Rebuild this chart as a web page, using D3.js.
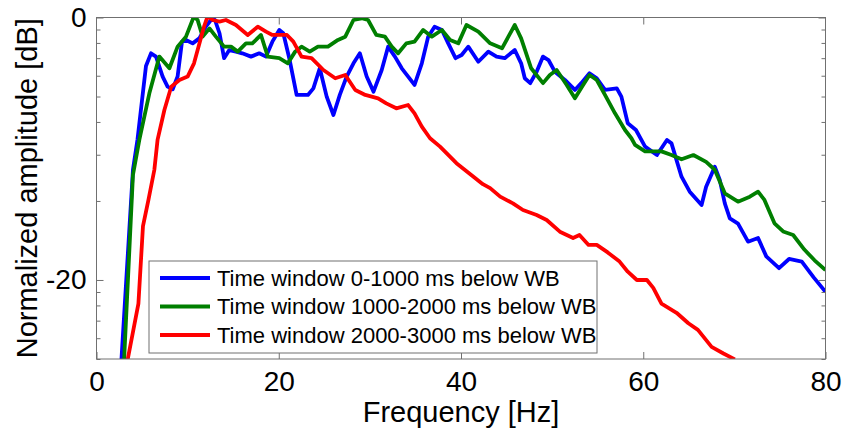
<!DOCTYPE html>
<html>
<head>
<meta charset="utf-8">
<script src="https://cdn.jsdelivr.net/npm/d3@7"></script>
<style>
  body { margin: 0; background: #fff; }
  text { font-family: "Liberation Sans", Arial, sans-serif; fill: #000; }
</style>
</head>
<body>
<svg id="chart"></svg>
<script>
// frequency [Hz] / level [dB]
const blueFreq = [2.7, 4.0, 4.5, 5.43, 5.98, 6.53, 7.26, 7.8, 8.36, 8.9, 9.38, 9.82, 10.55, 11.28, 12.0, 12.56, 13.0, 13.5, 14.0, 14.57, 15.3, 16.0, 16.95, 17.86, 18.6, 19.3, 20.06, 20.5, 21.2, 21.96, 23.2, 23.8, 24.5, 25.26, 26.0, 26.7, 27.45, 28.2, 28.9, 29.65, 30.4, 31.3, 32.0, 32.75, 33.5, 34.2, 34.9, 35.7, 36.4, 37.1, 37.9, 38.6, 39.4, 40.07, 40.8, 41.9, 43.0, 43.9, 44.8, 45.9, 46.6, 47.0, 47.6, 48.3, 49.0, 49.6, 50.3, 51.4, 52.5, 53.2, 54.1, 54.9, 55.8, 57.1, 57.6, 58.3, 59.2, 60.2, 61.5, 62.6, 63.1, 64.2, 65.1, 66.4, 66.9, 67.85, 68.4, 68.95, 69.5, 70.4, 71.5, 72.6, 73.5, 74.9, 76.0, 77.4, 78.7, 80];
const blueDb = [-26.5, -11.6, -9.3, -3.7, -2.73, -2.98, -4.5, -5.27, -5.47, -4.5, -1.84, -1.71, -1.97, -1.59, -0.7, -0.19, -0.19, -1.2, -3.1, -2.48, -2.6, -2.73, -2.98, -2.73, -2.98, -1.84, -0.95, -1.2, -3.24, -5.9, -5.9, -5.4, -3.87, -6.03, -7.43, -5.9, -4.5, -3.49, -2.73, -4.5, -5.65, -4.0, -2.22, -2.98, -3.87, -4.5, -5.14, -3.49, -1.46, -0.7, -0.95, -1.97, -3.1, -2.86, -2.22, -3.37, -2.6, -2.98, -3.1, -2.48, -3.49, -4.63, -5.0, -4.13, -2.98, -3.24, -4.13, -4.76, -5.52, -5.0, -4.25, -4.63, -5.52, -5.4, -6.03, -8.06, -8.57, -9.84, -10.48, -9.33, -9.59, -12.13, -13.27, -14.29, -12.89, -11.37, -12.38, -14.16, -15.3, -15.7, -17.08, -16.8, -18.2, -19.1, -18.4, -18.6, -19.8, -20.9];

const greenFreq = [3.0, 4.0, 4.7, 5.8, 6.9, 8.0, 8.9, 9.82, 10.7, 11.1, 11.65, 12.4, 13.1, 14.0, 14.76, 15.5, 16.4, 17.1, 18.05, 18.8, 20.06, 21.0, 21.8, 22.5, 23.4, 24.3, 25.4, 26.5, 27.3, 28.2, 29.1, 29.8, 30.7, 31.65, 32.4, 33.1, 34.0, 34.9, 35.85, 36.8, 37.9, 38.8, 39.7, 40.6, 41.9, 43.2, 44.5, 45.2, 45.9, 46.6, 47.7, 49.0, 49.75, 50.5, 51.6, 52.5, 53.4, 54.1, 54.9, 55.8, 56.9, 58.0, 58.7, 59.1, 60.2, 62.0, 63.1, 64.2, 65.5, 66.9, 67.85, 68.95, 70.4, 71.7, 72.6, 73.3, 74.4, 75.35, 76.45, 77.7, 78.8, 80];
const greenDb = [-26.5, -12.0, -9.33, -5.78, -2.98, -3.87, -2.22, -1.46, 0.1, -0.2, -1.46, -0.83, -1.46, -2.22, -2.22, -2.6, -1.97, -1.97, -1.33, -2.98, -3.1, -3.49, -2.6, -2.22, -2.6, -2.22, -2.22, -1.71, -1.46, -0.19, -0.06, -0.19, -1.33, -1.46, -2.22, -2.73, -1.97, -1.84, -0.95, -1.46, -0.95, -1.71, -1.97, -0.57, -1.08, -1.97, -2.35, -1.46, -0.57, -1.59, -3.87, -5.0, -4.38, -4.0, -5.14, -6.16, -5.14, -4.38, -4.76, -5.9, -7.3, -8.57, -9.2, -9.71, -10.2, -10.2, -10.48, -10.8, -10.48, -11.0, -11.6, -13.4, -14.03, -13.65, -13.27, -13.9, -15.68, -16.3, -16.57, -17.7, -18.5, -19.24];

const redFreq = [3.3, 4.6, 5.1, 5.7, 6.35, 6.7, 7.45, 8.2, 9.1, 10.0, 10.7, 11.3, 11.8, 12.2, 12.75, 13.5, 14.2, 15.3, 16.6, 17.7, 18.6, 19.3, 20.2, 20.9, 21.6, 22.5, 23.6, 24.9, 26.2, 27.3, 28.4, 29.5, 30.9, 31.8, 32.9, 34.2, 34.9, 35.7, 36.6, 37.7, 39.5, 41.3, 42.4, 43.2, 44.3, 45.7, 46.8, 48.3, 49.4, 50.85, 52.3, 53.0, 54.0, 54.9, 56.1, 57.4, 58.3, 59.3, 60.4, 61.1, 62.0, 63.65, 64.95, 66.0, 67.5, 68.8, 70.05];
const redDb = [-26.5, -21.8, -15.9, -13.9, -11.6, -9.33, -7.05, -5.27, -4.76, -4.5, -3.49, -1.97, -0.7, 0.1, -0.19, -0.32, -0.19, -0.57, -1.33, -0.7, -1.08, -1.33, -1.33, -1.33, -1.84, -2.98, -3.1, -4.0, -4.63, -4.38, -5.52, -5.9, -6.16, -6.54, -6.92, -6.67, -7.3, -8.32, -9.2, -9.84, -11.1, -12.1, -12.7, -13.0, -13.65, -14.16, -14.67, -15.05, -15.43, -16.32, -16.8, -16.57, -17.33, -17.33, -17.9, -18.6, -19.37, -20.0, -20.0, -20.6, -21.8, -22.5, -23.3, -23.8, -25.1, -25.6, -26.05];

const seriesNames = [
  "Time window 0-1000 ms below WB",
  "Time window 1000-2000 ms below WB",
  "Time window 2000-3000 ms below WB"
];
const seriesColors = ["#0000ff", "#007f00", "#ff0000"];

const xTicks = [0, 20, 40, 60, 80];
// y axis is amplitude on a log scale, labelled in dB
const yMinorAmp = [0.05, 0.06, 0.07, 0.08, 0.09, 0.2, 0.3, 0.4, 0.5, 0.6, 0.7, 0.8, 0.9];
const yMajorAmp = [0.1, 1];
const yMajorLabels = ["-20", "0"];

const W = 847, H = 437;
const plotLeft = 96.5, plotRight = 825.5, plotTop = 17.5, plotBottom = 359;

const svg = d3.select("#chart").attr("width", W).attr("height", H);

const x = d3.scaleLinear().domain([0, 80]).range([plotLeft, plotRight]);
const y = d3.scaleLinear().domain([20 * Math.log10(0.05), 0]).range([plotBottom, plotTop]);
const toDb = a => 20 * Math.log10(a);

svg.append("clipPath").attr("id", "plotClip")
  .append("rect")
  .attr("x", plotLeft).attr("y", plotTop)
  .attr("width", plotRight - plotLeft).attr("height", plotBottom - plotTop);

const series = [
  { freq: blueFreq, db: blueDb },
  { freq: greenFreq, db: greenDb },
  { freq: redFreq, db: redDb }
].map((s, i) => ({
  name: seriesNames[i],
  color: seriesColors[i],
  points: s.freq.map((f, j) => ({ f, db: s.db[j] }))
}));

const line = d3.line()
  .x(d => x(d.f))
  .y(d => y(d.db));

svg.append("g")
  .attr("clip-path", "url(#plotClip)")
  .selectAll("path")
  .data(series)
  .join("path")
  .attr("fill", "none")
  .attr("stroke", d => d.color)
  .attr("stroke-width", 3.8)
  .attr("stroke-linejoin", "round")
  .attr("d", d => line(d.points));

// axes: box with ticks on all four sides
const axisColor = "#707070";
const styleAxis = g => {
  g.select(".domain").remove();
  g.selectAll(".tick line").attr("stroke", axisColor);
};

svg.append("g")
  .attr("transform", `translate(0,${plotBottom})`)
  .call(d3.axisBottom(x).tickValues(xTicks).tickSize(-7).tickPadding(12))
  .call(styleAxis)
  .call(g => g.selectAll(".tick text")
    .attr("font-size", 28)
    .attr("font-family", "'Liberation Sans Narrow', 'Liberation Sans', Arial, sans-serif")
    .attr("dy", "0.71em"));

svg.append("g")
  .attr("transform", `translate(0,${plotTop})`)
  .call(d3.axisTop(x).tickValues(xTicks.slice(1, -1)).tickSize(-7).tickFormat(""))
  .call(styleAxis);

const yMajorDb = yMajorAmp.map(toDb);
const yMinorDb = yMinorAmp.map(toDb);

svg.append("g")
  .attr("transform", `translate(${plotLeft},0)`)
  .call(d3.axisLeft(y).tickValues(yMinorDb).tickSize(-4).tickFormat(""))
  .call(styleAxis);

svg.append("g")
  .attr("transform", `translate(${plotLeft},0)`)
  .call(d3.axisLeft(y).tickValues(yMajorDb).tickSize(-7).tickPadding(10)
    .tickFormat((d, i) => yMajorLabels[i]))
  .call(styleAxis)
  .call(g => g.selectAll(".tick text").attr("font-size", 28));

svg.append("g")
  .attr("transform", `translate(${plotRight},0)`)
  .call(d3.axisRight(y).tickValues(yMinorDb).tickSize(-4).tickFormat(""))
  .call(styleAxis);

svg.append("g")
  .attr("transform", `translate(${plotRight},0)`)
  .call(d3.axisRight(y).tickValues(yMajorDb).tickSize(-7).tickFormat(""))
  .call(styleAxis);

svg.append("rect")
  .attr("x", plotLeft).attr("y", plotTop)
  .attr("width", plotRight - plotLeft).attr("height", plotBottom - plotTop)
  .attr("fill", "none")
  .attr("stroke", axisColor)
  .attr("stroke-width", 1);

// axis titles
svg.append("text")
  .attr("x", (plotLeft + plotRight) / 2)
  .attr("y", 422)
  .attr("text-anchor", "middle")
  .attr("font-size", 29)
  .text("Frequency [Hz]");

svg.append("text")
  .attr("transform", `translate(37,${(plotTop + plotBottom) / 2}) rotate(-90)`)
  .attr("text-anchor", "middle")
  .attr("font-size", 29)
  .text("Normalized amplitude [dB]");

// legend
const legend = svg.append("g").attr("transform", "translate(149,261)");
legend.append("rect")
  .attr("width", 448).attr("height", 92)
  .attr("fill", "#fff")
  .attr("stroke", axisColor);

const rows = legend.selectAll("g.row")
  .data(series)
  .join("g")
  .attr("class", "row")
  .attr("transform", (d, i) => `translate(0,${17 + i * 28.5})`);

rows.append("line")
  .attr("x1", 11).attr("x2", 61)
  .attr("stroke", d => d.color)
  .attr("stroke-width", 3.8);

rows.append("text")
  .attr("x", 68)
  .attr("dy", "0.36em")
  .attr("font-size", 22)
  .text(d => d.name);
</script>
</body>
</html>
